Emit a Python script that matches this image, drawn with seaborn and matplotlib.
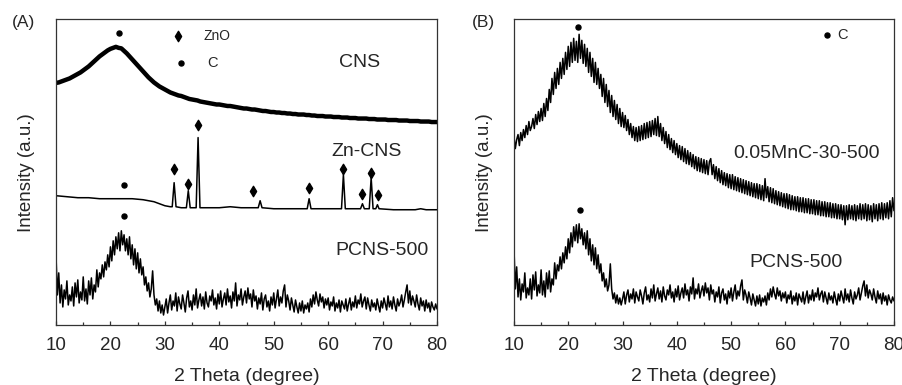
import matplotlib
matplotlib.use("Agg")
import matplotlib.pyplot as plt
import numpy as np
import seaborn as sns
from matplotlib.ticker import MultipleLocator, NullLocator

# ---- data (intensity in arbitrary units) ----
# CNS, 0.5 degree steps from 10 to 80
cns = [
    241.5, 242, 243, 244, 245, 246, 247.5, 249, 250.5, 252,             # 10 - 14.5
    254, 256, 258, 260.5, 263, 265.5, 268, 270, 272, 274,               # 15 - 19.5
    275.5, 276.5, 277.5, 276.5, 276, 273.5, 271, 268, 265, 262,         # 20 - 24.5
    259, 256, 253, 250, 247, 244.5, 242, 240, 238, 236.5,               # 25 - 29.5
    235, 233.5, 232, 231, 230, 229, 228.5, 227.5, 226.5, 225.5,         # 30 - 34.5
    225, 224.5, 224, 223, 222.5, 222, 221.5, 221, 220.5, 220,           # 35 - 39.5
    220, 219.5, 219, 218.5, 218.5, 218, 217.5, 217, 216.5, 216,         # 40 - 44.5
    216, 215.5, 215, 215, 214.5, 214, 213.5, 213.5, 213, 212.5,         # 45 - 49.5
    212.5, 212, 212, 211.5, 211.5, 211, 211, 210.5, 210.5, 210,         # 50 - 54.5
    210, 210, 209.5, 209.5, 209, 209, 208.5, 208.5, 208.5, 208,         # 55 - 59.5
    208, 208, 207.5, 207.5, 207.5, 207, 207, 207, 206.5, 206.5,         # 60 - 64.5
    206.5, 206, 206, 206, 206, 205.5, 205.5, 205.5, 205, 205,           # 65 - 69.5
    205, 205, 204.5, 204.5, 204.5, 204.5, 204, 204, 204, 204,           # 70 - 74.5
    203.5, 203.5, 203.5, 203.5, 203, 203, 203, 203, 202.5, 202.5,       # 75 - 79.5
    202.5,
]

# Zn-CNS, irregular steps (sharp ZnO reflections)
zn_theta = [10, 12, 14, 16, 18, 20, 22, 24, 26, 28, 29, 30, 31, 31.35, 31.7,
            32.05, 33, 33.95, 34.3, 34.65, 35.75, 36.1, 36.45, 38, 40, 42,
            44, 46, 47.15, 47.5, 47.85, 50, 54, 56.15, 56.5, 56.85, 60, 62.45,
            62.8, 63.15, 65.95, 66.3, 66.65, 67.55, 67.9, 68.25, 68.75, 69.05,
            69.35, 72, 76, 77, 78, 80]
zn_cns = [129, 128, 127, 127, 126, 126, 126, 126, 125, 123, 121, 119, 118, 118,
          142, 118, 117, 117, 134, 117, 117, 187, 117, 117, 117, 118, 117, 117,
          117, 124, 117, 116, 116, 116, 126, 116, 116, 116, 150, 116, 116, 121,
          116, 116, 147, 116, 116, 120, 116, 115, 115, 116, 115, 115]

# noisy patterns, 0.25 degree steps from 10 to 80 (20 values per 5 degrees)
pcns_a = [
    69, 30, 52, 22, 40, 18, 35, 26, 44, 20, 30, 24, 38, 19, 42, 28, 45, 22, 33, 25,
    48, 24, 36, 21, 44, 30, 47, 26, 40, 33, 55, 38, 52, 46, 60, 48, 63, 55, 70, 58,
    78, 64, 84, 70, 88, 76, 92, 74, 94, 80, 90, 74, 86, 70, 88, 66, 80, 60, 76, 56,
    72, 52, 66, 50, 58, 40, 48, 34, 42, 28, 36, 54, 30, 20, 26, 14, 24, 12, 20, 10,
    18, 26, 12, 22, 30, 15, 24, 19, 32, 14, 28, 21, 16, 30, 22, 13, 27, 34, 18, 24,
    15, 30, 20, 36, 17, 25, 31, 19, 28, 16, 33, 22, 18, 29, 24, 35, 20, 27, 16, 31,
    21, 34, 18, 26, 32, 20, 36, 23, 29, 17, 33, 24, 42, 19, 30, 25, 36, 20, 28, 34,
    22, 37, 26, 31, 18, 35, 24, 29, 16, 27, 21, 32, 15, 26, 30, 18, 24, 14, 28, 20,
    32, 17, 26, 35, 19, 28, 22, 34, 40, 18, 30, 24, 15, 27, 20, 13, 25, 18, 12, 22,
    14, 24, 12, 20, 16, 22, 13, 26, 18, 30, 21, 33, 25, 19, 31, 23, 28, 17, 26, 20,
    27, 15, 23, 19, 28, 14, 22, 17, 25, 13, 24, 20, 16, 26, 14, 21, 27, 15, 23, 18,
    29, 17, 25, 21, 31, 18, 24, 28, 16, 27, 20, 14, 25, 18, 22, 15, 26, 19, 13, 24,
    17, 27, 21, 15, 29, 18, 24, 16, 28, 20, 14, 26, 19, 23, 30, 18, 25, 33, 40, 22,
    34, 20, 29, 24, 18, 30, 21, 15, 27, 19, 24, 14, 25, 17, 22, 13, 23, 18, 15, 21,
    16,
]

mnc = [
    188, 176, 185, 190, 179, 192, 184, 195, 187, 199, 190, 203, 194, 198, 206, 196, 210, 200, 213, 203,
    216, 204, 221, 208, 226, 214, 235, 222, 246, 230, 252, 236, 256, 240, 262, 246, 266, 250, 272, 255,
    278, 258, 282, 262, 286, 264, 283, 262, 290, 266, 284, 261, 280, 258, 276, 252, 272, 248, 266, 242,
    262, 240, 256, 236, 250, 228, 246, 222, 240, 218, 234, 212, 229, 208, 224, 205, 220, 201, 216, 198,
    212, 197, 209, 194, 205, 190, 201, 187, 198, 184, 197, 183, 198, 184, 199, 185, 201, 186, 202, 187,
    203, 188, 204, 190, 206, 189, 208, 188, 201, 184, 197, 181, 193, 177, 190, 175, 186, 172, 184, 170,
    181, 167, 179, 165, 178, 163, 176, 161, 174, 160, 172, 158, 170, 156, 168, 154, 167, 153, 166, 152,
    165, 151, 164, 150, 163, 166, 150, 160, 146, 158, 144, 156, 142, 154, 140, 152, 139, 151, 137, 150,
    136, 150, 135, 148, 134, 147, 133, 146, 132, 145, 131, 144, 130, 143, 129, 142, 128, 141, 127, 141,
    126, 140, 125, 139, 124, 146, 127, 138, 123, 137, 122, 136, 121, 134, 120, 133, 119, 132, 118, 131,
    117, 131, 116, 130, 115, 129, 115, 128, 114, 128, 113, 127, 113, 127, 112, 126, 112, 126, 111, 125,
    111, 125, 110, 124, 110, 124, 109, 123, 109, 123, 108, 122, 108, 122, 107, 121, 107, 121, 106, 120,
    106, 120, 105, 119, 100, 119, 105, 120, 106, 119, 105, 120, 104, 119, 106, 121, 105, 120, 106, 121,
    104, 120, 105, 119, 103, 121, 106, 120, 104, 121, 106, 122, 105, 121, 107, 122, 106, 124, 108, 127,
    114,
]

pcns_b = [
    77, 36, 58, 28, 46, 25, 41, 33, 52, 27, 37, 30, 46, 26, 50, 35, 53, 29, 40, 32,
    55, 30, 44, 28, 52, 36, 54, 33, 46, 40, 62, 46, 60, 54, 68, 56, 72, 62, 78, 66,
    86, 72, 92, 78, 98, 84, 100, 82, 101, 86, 96, 80, 92, 76, 94, 70, 86, 64, 80, 60,
    77, 56, 70, 52, 61, 44, 52, 38, 46, 34, 40, 61, 36, 26, 32, 22, 30, 21, 27, 20,
    26, 33, 21, 30, 35, 23, 31, 26, 36, 22, 33, 28, 24, 35, 29, 21, 32, 38, 25, 30,
    23, 36, 27, 40, 24, 31, 37, 26, 34, 23, 38, 29, 25, 35, 30, 40, 27, 33, 23, 36,
    28, 39, 25, 32, 37, 27, 41, 30, 35, 24, 38, 31, 47, 26, 36, 31, 41, 27, 34, 39,
    29, 42, 32, 37, 25, 40, 31, 35, 23, 33, 28, 38, 22, 32, 36, 25, 31, 21, 34, 27,
    37, 24, 33, 40, 26, 34, 29, 39, 45, 25, 35, 30, 22, 33, 27, 20, 31, 25, 19, 29,
    21, 30, 19, 27, 23, 29, 20, 32, 25, 36, 28, 38, 31, 26, 37, 29, 34, 24, 32, 27,
    33, 22, 30, 26, 34, 21, 29, 24, 32, 20, 31, 27, 23, 33, 21, 28, 34, 22, 30, 25,
    35, 24, 32, 28, 37, 25, 31, 34, 23, 33, 27, 21, 32, 25, 29, 22, 33, 26, 20, 31,
    24, 34, 28, 22, 36, 25, 31, 23, 35, 27, 21, 33, 26, 30, 37, 25, 32, 39, 44, 29,
    40, 27, 35, 31, 25, 36, 28, 22, 34, 26, 31, 21, 32, 24, 29, 20, 30, 25, 22, 28,
    24,
]

# reflection markers
zno_theta = [31.7, 34.3, 36.1, 46.2, 56.4, 62.8, 66.3, 67.9, 69.2]
zno_mark = [156, 141, 200, 134, 137, 156, 131, 152, 130]
c_theta_a = [21.5, 22.5, 22.4]
c_mark_a = [291, 140, 109]
c_theta_b = [21.8, 22.1]
c_mark_b = [297, 115]


def grid(vals):
    return np.linspace(10, 80, len(vals))


sns.set_theme(style="ticks")
plt.rcParams["font.family"] = ["Liberation Sans", "DejaVu Sans"]

fig = plt.figure(figsize=(9.02, 3.85), dpi=100)
ax_a = fig.add_axes([0.0621, 0.1558, 0.4224, 0.7941])
ax_b = fig.add_axes([0.5698, 0.1558, 0.4213, 0.7941])


def style_axis(ax):
    ax.set_xlim(10, 80)
    ax.set_ylim(0, 305)
    ax.xaxis.set_major_locator(MultipleLocator(10))
    ax.xaxis.set_minor_locator(MultipleLocator(5))
    ax.yaxis.set_major_locator(NullLocator())
    ax.tick_params(axis="x", which="major", direction="in", length=3.2,
                   width=0.9, labelsize=13.5, pad=8.5, color="#333333")
    ax.tick_params(axis="x", which="minor", direction="in", length=2,
                   width=0.9, color="#333333")
    for sp in ax.spines.values():
        sp.set_linewidth(0.9)
        sp.set_color("#333333")
    ax.set_xlabel("2 Theta (degree)", fontsize=14, labelpad=10.5)
    ax.set_ylabel("Intensity (a.u.)", fontsize=13.5, labelpad=15)


# panel A
sns.lineplot(x=grid(cns), y=cns, ax=ax_a, color="black", lw=3.2)
sns.lineplot(x=zn_theta, y=zn_cns, ax=ax_a, color="black", lw=1.1)
sns.lineplot(x=grid(pcns_a), y=pcns_a, ax=ax_a, color="black", lw=1.1)
ax_a.scatter(zno_theta, zno_mark, marker="d", s=28, color="black", zorder=5)
ax_a.scatter(c_theta_a, c_mark_a, marker="o", s=13, color="black", zorder=5)
ax_a.scatter([32.35], [288], marker="d", s=28, color="black")
ax_a.scatter([33.0], [261], marker="o", s=13, color="black")
ax_a.text(37.1, 288, "ZnO", fontsize=10, va="center", ha="left")
ax_a.text(37.7, 261, "C", fontsize=10.5, va="center", ha="left")
ax_a.text(65.7, 262, "CNS", fontsize=14, ha="center", va="center")
ax_a.text(67.0, 173, "Zn-CNS", fontsize=14, ha="center", va="center")
ax_a.text(69.8, 74, "PCNS-500", fontsize=14, ha="center", va="center")
style_axis(ax_a)

# panel B
sns.lineplot(x=grid(mnc), y=mnc, ax=ax_b, color="black", lw=1.1)
sns.lineplot(x=grid(pcns_b), y=pcns_b, ax=ax_b, color="black", lw=1.1)
ax_b.scatter(c_theta_b, c_mark_b, marker="o", s=13, color="black", zorder=5)
ax_b.scatter([67.7], [289], marker="o", s=13, color="black")
ax_b.text(69.6, 289, "C", fontsize=10.5, va="center", ha="left")
ax_b.text(63.8, 171, "0.05MnC-30-500", fontsize=14, ha="center", va="center")
ax_b.text(61.9, 62, "PCNS-500", fontsize=14, ha="center", va="center")
style_axis(ax_b)

fig.text(12 / 902, 1 - 23 / 385, "(A)", fontsize=12.5, va="center", ha="left")
fig.text(472 / 902, 1 - 23 / 385, "(B)", fontsize=12.5, va="center", ha="left")

fig.savefig("out.png", dpi=100)
